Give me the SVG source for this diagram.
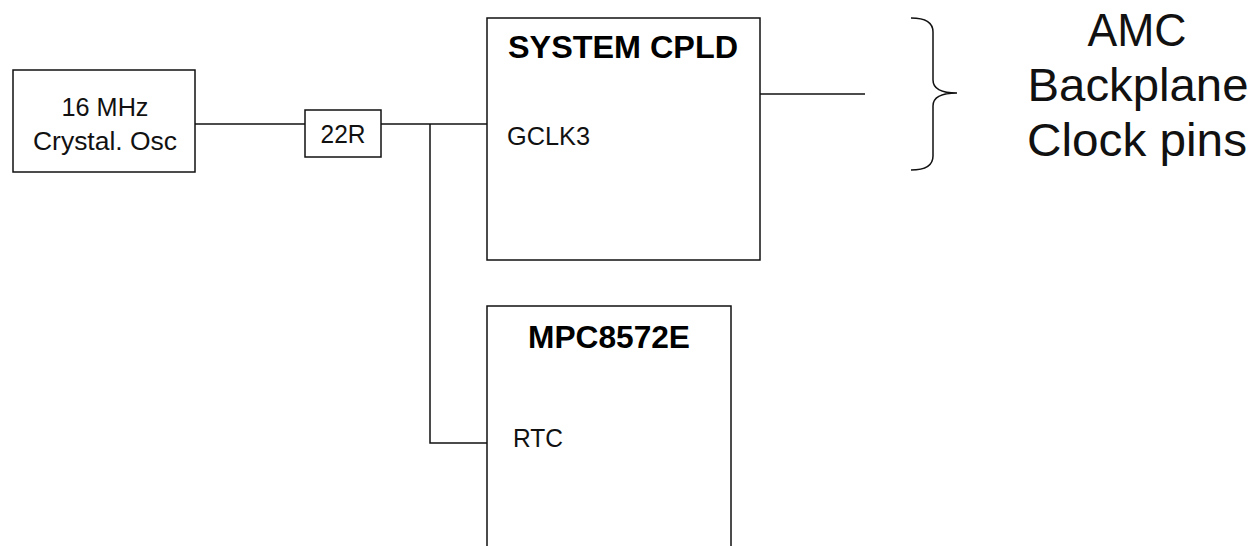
<svg xmlns="http://www.w3.org/2000/svg" width="1254" height="546" viewBox="0 0 1254 546">
<style>
.box{fill:#fff;stroke:#111;stroke-width:1.5}
.wire{fill:none;stroke:#111;stroke-width:1.5}
.t{font-family:"Liberation Sans",Arial,sans-serif;fill:#111}
.b{font-family:"Liberation Sans",Arial,sans-serif;font-weight:bold;fill:#000}
</style>
<rect width="1254" height="546" fill="#fff"/>
<g id="connectors">
<line class="wire" x1="195" y1="124" x2="305" y2="124"/>
<line class="wire" x1="381" y1="124" x2="487" y2="124"/>
<polyline class="wire" points="430,124 430,443 487,443"/>
<line class="wire" x1="760" y1="94" x2="865" y2="94"/>
</g>
<g id="crystal">
<rect class="box" x="13" y="70" width="182" height="102"/>
<text class="t" x="105" y="116" font-size="25" text-anchor="middle" textLength="87" lengthAdjust="spacingAndGlyphs">16 MHz</text>
<text class="t" x="105" y="150" font-size="25" text-anchor="middle" textLength="144" lengthAdjust="spacingAndGlyphs">Crystal. Osc</text>
</g>
<g id="r22">
<rect class="box" x="305" y="110" width="76" height="47"/>
<text class="t" x="343" y="143" font-size="25" text-anchor="middle" textLength="45" lengthAdjust="spacingAndGlyphs">22R</text>
</g>
<g id="cpld">
<rect class="box" x="487" y="18" width="273" height="242"/>
<text class="b" x="623" y="58" font-size="32" text-anchor="middle" textLength="230" lengthAdjust="spacingAndGlyphs">SYSTEM CPLD</text>
<text class="t" x="507" y="145" font-size="25" textLength="83" lengthAdjust="spacingAndGlyphs">GCLK3</text>
</g>
<g id="mpc">
<rect class="box" x="487" y="306" width="244" height="260"/>
<text class="b" x="609" y="348" font-size="32" text-anchor="middle" textLength="162" lengthAdjust="spacingAndGlyphs">MPC8572E</text>
<text class="t" x="513" y="447" font-size="25" textLength="50" lengthAdjust="spacingAndGlyphs">RTC</text>
</g>
<g id="amc">
<path class="wire" d="M911,18 Q933,18 933,32 L933,80 Q933,93 957,93 Q933,93 933,106 L933,156 Q933,170 911,170"/>
<text class="t" x="1137" y="46" font-size="46" text-anchor="middle" textLength="99" lengthAdjust="spacingAndGlyphs">AMC</text>
<text class="t" x="1138" y="101" font-size="46" text-anchor="middle" textLength="221" lengthAdjust="spacingAndGlyphs">Backplane</text>
<text class="t" x="1137" y="156" font-size="46" text-anchor="middle" textLength="220" lengthAdjust="spacingAndGlyphs">Clock pins</text>
</g>
</svg>
